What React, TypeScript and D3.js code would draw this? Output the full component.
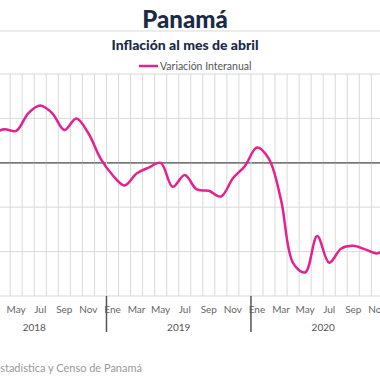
import React from "react";
import * as d3 from "d3";

const monthNames = ["Ene","Feb","Mar","Abr","May","Jun","Jul","Ago","Sep","Oct","Nov","Dic"];
const years = [2018, 2019, 2020];
// Variación interanual (%), Mar 2018 .. Dic 2020
const startMonthIndex = 2; // Mar 2018
const values = [
  0.65, 0.755, 0.72, 1.115, 1.29, 1.115, 0.74, 1.0, 0.665, 0.10,
  -0.275, -0.51, -0.24, -0.11, 0.0, -0.54, -0.275, -0.6, -0.63, -0.76, -0.35, -0.07,
  0.345, 0.085, -0.84, -2.26, -2.47, -1.65, -2.25, -1.93, -1.87, -1.95, -2.04, -1.81,
];
const yTicks = [-3, -2, -1, 0, 1, 2];

const W = 380, H = 380;
const FONT = "Lato, 'Open Sans', sans-serif";

export default function App() {
  const nMonths = years.length * 12;
  const x = d3.scaleLinear().domain([0, nMonths]).range([-38, -38 + nMonths * 12.04]);
  const y = d3.scaleLinear().domain([-3, 2]).range([296, 74]);
  const pts = values.map((v, i) => [x(startMonthIndex + i + 0.5), y(v)] as [number, number]);
  const line = d3.line().curve(d3.curveCatmullRom.alpha(0.5))(pts) || "";
  const gray = "#d9d9d9";
  const ink = "#1b2a47";
  return (
    <svg width={W} height={H} style={{ position: "absolute", left: 0, top: 0, background: "#fff" }}>
      <rect x={0} y={0} width={W} height={H} fill="#fff" />
      <text x={185} y={28} textAnchor="middle" fontFamily={FONT} fontWeight={900} fontSize={24} fill={ink}>Panamá</text>
      <line x1={0} x2={W} y1={31} y2={31} stroke="#e6e6e6" strokeWidth={1.5} />
      <text x={185} y={50} textAnchor="middle" fontFamily={FONT} fontWeight={900} fontSize={14} fill={ink}>Inflación al mes de abril</text>
      <line x1={139} x2={158} y1={66} y2={66} stroke="#e3228f" strokeWidth={2.5} />
      <text x={160} y={69.5} fontFamily={FONT} fontSize={10.5} fill="#555">Variación Interanual</text>
      {yTicks.map((t) => (
        <line key={t} x1={0} x2={W} y1={y(t)} y2={y(t)} stroke={t === 0 ? "#7a7a7a" : gray} strokeWidth={t === 0 ? 1.5 : 1} />
      ))}
      {d3.range(0, nMonths + 1).filter((m) => m % 12 !== 0).map((m) => (
        <line key={m} x1={x(m)} x2={x(m)} y1={74} y2={296} stroke={gray} strokeWidth={1} />
      ))}
      <line x1={0} x2={W} y1={y(0)} y2={y(0)} stroke="#7a7a7a" strokeWidth={1.5} />
      {d3.range(0, nMonths).filter((m) => m % 2 === 0 && x(m + 0.5) > 0).map((m) => (
        <text key={m} x={x(m + 0.5)} y={313} textAnchor="middle" fontFamily={FONT} fontSize={10} fill="#666">{monthNames[m % 12]}</text>
      ))}
      {years.map((yr, i) => (
        <text key={yr} x={x(i * 12 + 6)} y={331} textAnchor="middle" fontFamily={FONT} fontSize={10} fill="#555">{yr}</text>
      ))}
      {years.slice(1).map((yr, i) => (
        <line key={yr} x1={x((i + 1) * 12)} x2={x((i + 1) * 12)} y1={74} y2={296} stroke={gray} strokeWidth={1} />
      ))}
      {years.slice(1).map((yr, i) => (
        <line key={"s" + yr} x1={x((i + 1) * 12)} x2={x((i + 1) * 12)} y1={296} y2={332} stroke="#555" strokeWidth={1.5} />
      ))}
      <path d={line} fill="none" stroke="#e3228f" strokeWidth={2.5} strokeLinejoin="round" />
      <text x={142} y={372} textAnchor="end" fontFamily={FONT} fontSize={11} fill="#999">Fuente: Instituto Nacional de Estadística y Censo de Panamá</text>
    </svg>
  );
}
